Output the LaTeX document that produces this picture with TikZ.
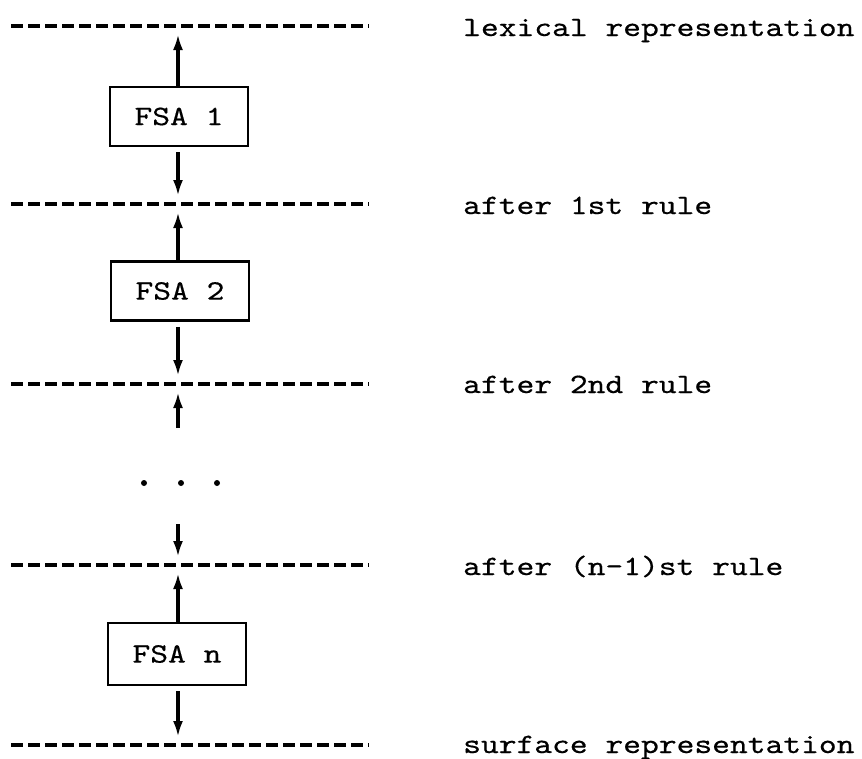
\documentclass[tikz,border=0pt]{standalone}
\usepackage{fontspec}
\newfontfamily\tw{lmmono10-regular.otf}[FakeStretch=1.21,FakeBold=0.5]
\usetikzlibrary{arrows.meta}
\tikzset{
  level/.style={line width=3.4pt, dash pattern=on 12pt off 5pt},
  fsa/.style={draw, line width=2.7pt, minimum width=138pt, minimum height=59pt, inner sep=0pt,
    font=\tw\fontsize{28}{28}\selectfont},
  conn/.style={-{Latex[length=16pt,width=10pt]}, line width=3.2pt},
  lbl/.style={anchor=base west, inner sep=0pt, font=\tw\fontsize{28}{28}\selectfont},
  dotmark/.style={fill=black, circle, inner sep=0pt, minimum size=6pt}
}
\begin{document}
\begin{tikzpicture}[x=1pt,y=-1pt]
\useasboundingbox (0,0) rectangle (862,758);
% levels
\foreach \i/\y in {1/26,2/204,3/384,4/565,5/745}{
  \coordinate (L\i w) at (11,\y);
  \coordinate (L\i e) at (369,\y);
  \coordinate (L\i) at (178,\y);
  \draw[level] (L\i w) -- (L\i e);
}
% labels
\node[lbl] (t1) at (463,36) {lexical representation};
\node[lbl] (t2) at (463,214) {after 1st rule};
\node[lbl] (t3) at (463,393) {after 2nd rule};
\node[lbl] (t4) at (463,575) {after (n-1)st rule};
\node[lbl] (t5) at (463,753) {surface representation};
% boxes
\node[fsa] (f1) at (179,116.5) {\raisebox{-4pt}{FSA 1}};
\node[fsa] (f2) at (180,291) {\raisebox{-4pt}{FSA 2}};
\node[fsa, minimum height=62pt] (fn) at (177,654) {\raisebox{-4pt}{FSA n}};
% arrow end coordinates
\coordinate (a1) at (178,34);
\coordinate (b1) at (178,196);
\coordinate (a2) at (178,212);
\coordinate (b2) at (178,376);
\coordinate (a3s) at (178,428);
\coordinate (a3) at (178,392);
\coordinate (b3s) at (178,524);
\coordinate (b3) at (178,557);
\coordinate (a4) at (178,573);
\coordinate (b4) at (178,737);
% connectors
\draw[conn] (f1.north -| a1) -- (a1);
\draw[conn] ([yshift=-5pt]f1.south -| b1) -- (b1);
\draw[conn] (f2.north -| a2) -- (a2);
\draw[conn] ([yshift=-5pt]f2.south -| b2) -- (b2);
\draw[conn] (a3s) -- (a3);
\draw[conn] (b3s) -- (b3);
\draw[conn] (fn.north -| a4) -- (a4);
\draw[conn] ([yshift=-5pt]fn.south -| b4) -- (b4);
% dots
\node[dotmark] (d1) at (144,483) {};
\node[dotmark] (d2) at (181,483) {};
\node[dotmark] (d3) at (217,483) {};
\end{tikzpicture}
\end{document}
